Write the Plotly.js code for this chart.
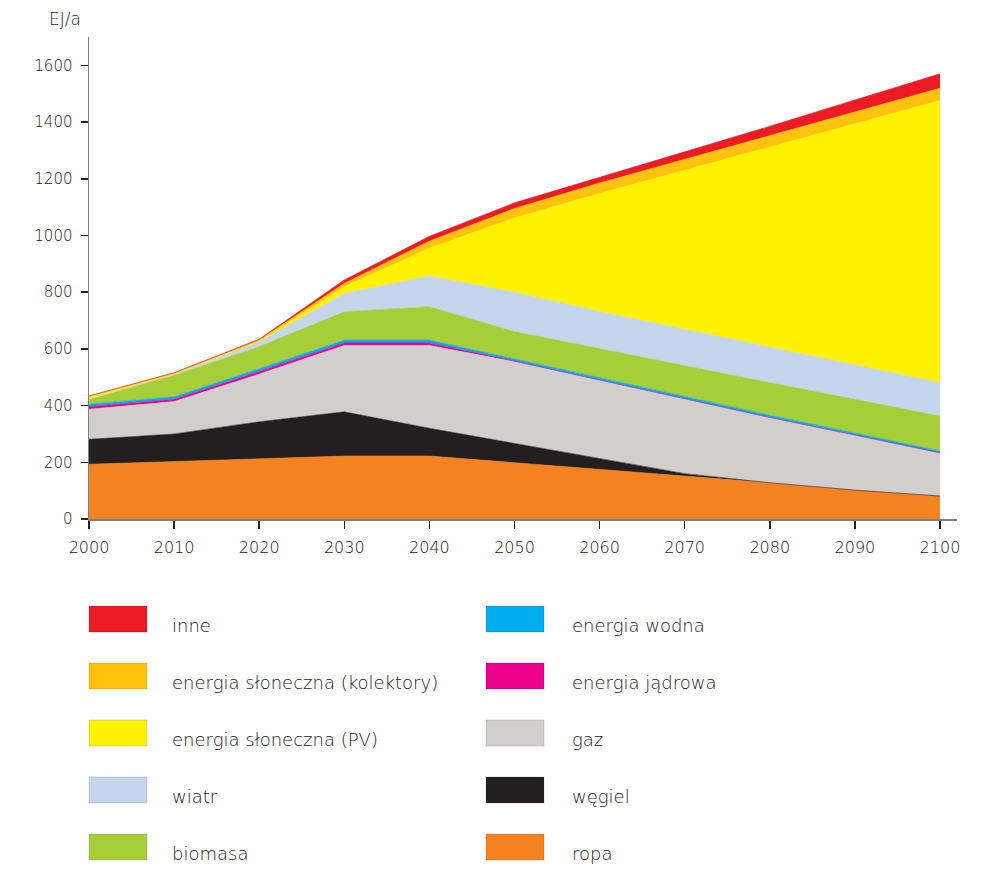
<!DOCTYPE html>
<html>
<head>
<meta charset="utf-8">
<script src="https://cdn.plot.ly/plotly-3.0.1.min.js"></script>
<style>
  html, body { margin: 0; padding: 0; background: #ffffff; }
  #chart { width: 992px; height: 879px; }
</style>
</head>
<body>
<div id="chart"></div>
<script>
// ---- data (EJ/a) ----
const years = [2000, 2010, 2020, 2030, 2040, 2050, 2060, 2070, 2080, 2090, 2100];

const ropa      = [193, 202, 212, 222, 222, 199, 175, 152, 128, 102, 81];
const wegiel    = [88, 98, 131, 156, 98, 68, 39, 8, 0, 0, 0];
const gaz       = [106, 114, 168, 234, 292, 288, 276, 264, 230, 194, 152];
const jadrowa   = [9, 8, 9, 9, 9, 2, 0, 0, 0, 0, 0];
const wodna     = [9, 9, 10, 10, 10, 8, 8, 8, 8, 7, 7];
const biomasa   = [17, 76, 78, 100, 118, 96, 103, 108, 115, 119, 123];
const wiatr     = [2, 3, 17, 65, 108, 139, 131, 129, 126, 122, 118];
const pv        = [6, 2, 3, 23, 98, 262, 416, 561, 704, 849, 995];
const kolektory = [3, 2, 3, 12, 25, 33, 37, 38, 41, 42, 43];
const inne      = [1, 2, 3, 12, 17, 20, 20, 27, 33, 43, 51];

const seriesNames = ["ropa", "węgiel", "gaz", "energia jądrowa", "energia wodna",
                     "biomasa", "wiatr", "energia słoneczna (PV)",
                     "energia słoneczna (kolektory)", "inne"];
const seriesValues = [ropa, wegiel, gaz, jadrowa, wodna, biomasa, wiatr, pv, kolektory, inne];
const seriesColors = ["#F58220", "#231F20", "#D1CFCE", "#EC008C", "#00AEEF",
                      "#A6CE39", "#C5D5EC", "#FFF200", "#FFC20E", "#ED1C24"];

const yTicks = [0, 200, 400, 600, 800, 1000, 1200, 1400, 1600];
const xTicks = [2000, 2010, 2020, 2030, 2040, 2050, 2060, 2070, 2080, 2090, 2100];

// legend layout: left column top->bottom, right column top->bottom (indices into series)
const legendLeft  = [9, 8, 7, 6, 5];
const legendRight = [4, 3, 2, 1, 0];

const FONT = "DejaVu Sans, sans-serif";
const TEXTCOL = "#1a1718";

// ---- traces ----
const traces = seriesValues.map((vals, i) => ({
  type: "scatter",
  mode: "lines",
  x: years,
  y: vals,
  name: seriesNames[i],
  stackgroup: "one",
  line: { width: 0.6, color: seriesColors[i], shape: "linear" },
  fillcolor: seriesColors[i],
  hoverinfo: "skip",
  showlegend: false
}));

// ---- custom legend (paper coords) ----
const L = 89, R = 35, T = 37, B = 360;
const W = 992 - L - R, H = 879 - T - B;
const px2x = px => (px - L) / W;
const py2y = py => (879 - B - py) / H;

const shapes = [];
const annotations = [];
const rowTop0 = 606, rowStep = 57, swH = 26;
function addLegendColumn(list, swX0, swX1, textX) {
  list.forEach((idx, r) => {
    const top = rowTop0 + r * rowStep;
    shapes.push({
      type: "rect", xref: "paper", yref: "paper",
      x0: px2x(swX0), x1: px2x(swX1), y0: py2y(top + swH), y1: py2y(top),
      fillcolor: seriesColors[idx],
      line: { width: 0.5, color: "rgba(0,0,0,0.25)" }
    });
    annotations.push({
      xref: "paper", yref: "paper",
      x: px2x(textX), y: py2y(top + swH / 2 + 6),
      xanchor: "left", yanchor: "middle",
      text: seriesNames[idx], showarrow: false,
      font: { family: FONT, size: 18, color: TEXTCOL, weight: 300 }
    });
  });
}
addLegendColumn(legendLeft, 89, 147, 170);
addLegendColumn(legendRight, 486, 544, 570);

annotations.push({
  xref: "paper", yref: "paper",
  x: px2x(47), y: py2y(19),
  xanchor: "left", yanchor: "middle",
  text: "EJ/a", showarrow: false,
  font: { family: FONT, size: 17, color: TEXTCOL, weight: 300 }
});

const layout = {
  width: 992, height: 879,
  margin: { l: L, r: R, t: T, b: B, pad: 0 },
  paper_bgcolor: "#ffffff",
  plot_bgcolor: "#ffffff",
  showlegend: false,
  font: { family: FONT, size: 15, color: TEXTCOL, weight: 300 },
  xaxis: {
    range: [2000, 2102],
    tickvals: xTicks,
    ticktext: xTicks.map(String),
    ticks: "outside", ticklen: 8, tickwidth: 1.5, tickcolor: "#231F20",
    showline: true, linecolor: "#808080", linewidth: 1.5,
    showgrid: false, zeroline: false,
    ticklabelstandoff: 5,
    tickfont: { family: FONT, size: 16, color: TEXTCOL, weight: 300 },
    fixedrange: true
  },
  yaxis: {
    range: [0, 1700],
    tickvals: yTicks,
    ticktext: yTicks.map(String),
    ticks: "outside", ticklen: 7, tickwidth: 1.5, tickcolor: "#231F20",
    showline: true, linecolor: "#808080", linewidth: 1.5,
    showgrid: false, zeroline: false,
    ticklabelstandoff: 5,
    tickfont: { family: FONT, size: 15, color: TEXTCOL, weight: 300 },
    fixedrange: true
  },
  shapes: shapes,
  annotations: annotations
};

Plotly.newPlot("chart", traces, layout, { displayModeBar: false, staticPlot: true });
</script>
</body>
</html>
